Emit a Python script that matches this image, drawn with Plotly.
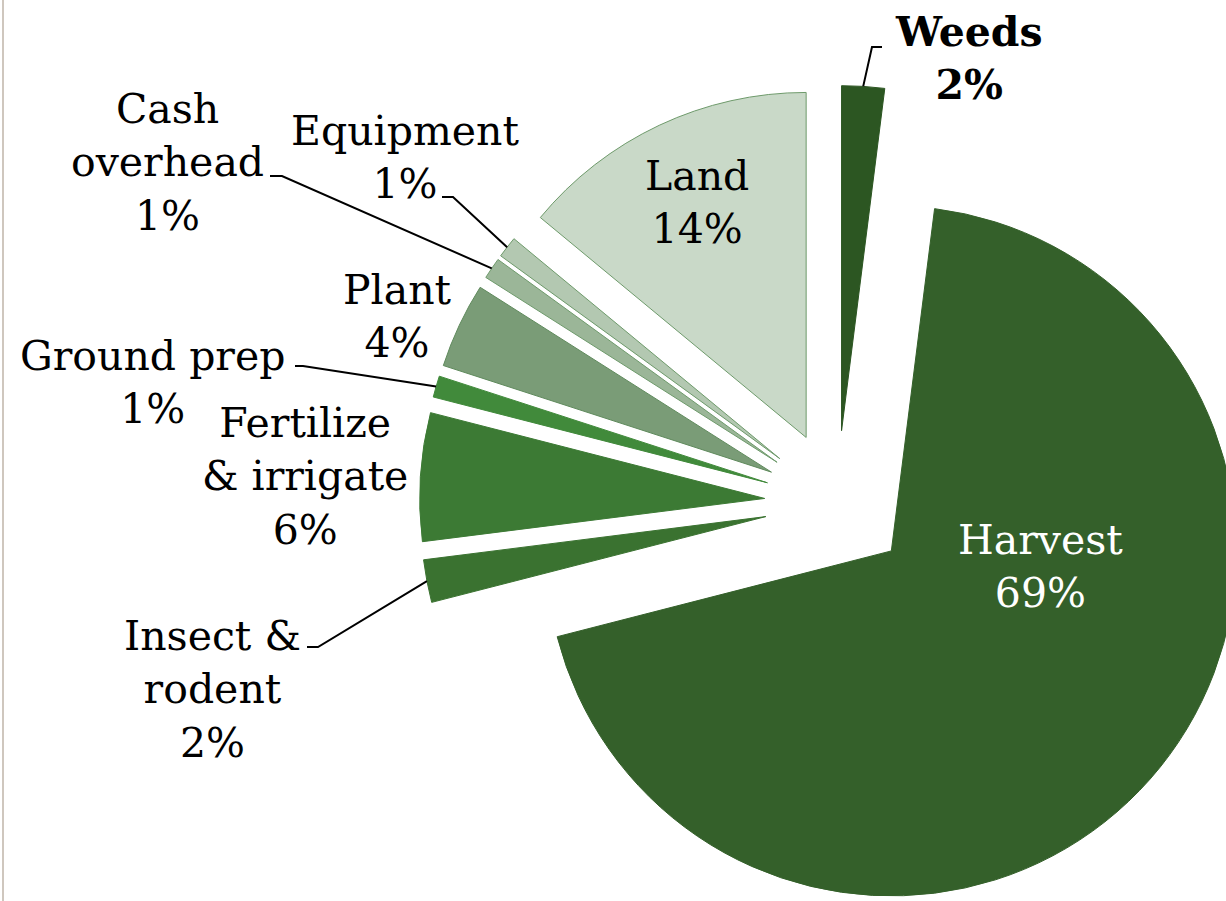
import math
import plotly.graph_objects as go

# ---------------- data ----------------
categories = ["Weeds", "Harvest", "Insect & rodent", "Fertilize & irrigate",
              "Ground prep", "Plant", "Cash overhead", "Equipment", "Land"]
values = [2, 69, 2, 6, 1, 4, 1, 1, 14]
display_names = ["Weeds", "Harvest", "Insect &<br>rodent", "Fertilize<br>& irrigate",
                 "Ground prep", "Plant", "Cash<br>overhead", "Equipment", "Land"]
colors = ["#2C5622", "#34602A", "#3A7230", "#3C7A34", "#418A3B",
          "#7A9C77", "#9BB698", "#B3C8B1", "#C9D9C8"]
line_colors = ["#2C5622", "#34602A", "#3A7230", "#3C7A34", "#418A3B",
               "#5F8A5C", "#6E9A6B", "#6E9A6B", "#6E9A6B"]

# ---------------- layout / style ----------------
W, H = 1260, 925                # figure size (px), viewport clips like the reference
CX, CY = 837, 503               # pie centre (px from top-left)
R = 345                         # pie radius (px)
PULL = 0.21                     # explosion (fraction of radius)
FONT = "DejaVu Serif"
FSIZE = 41

# label centres (px) and leader-line elbows (px) -- styling only
label_pos = {
    "Weeds": (969, 58), "Harvest": (1040, 566), "Insect & rodent": (212, 689),
    "Fertilize & irrigate": (305, 477), "Ground prep": (152, 382), "Plant": (397, 316),
    "Cash overhead": (167, 162), "Equipment": (405, 157), "Land": (697, 202),
}
leader_start = {
    "Weeds": ((882, 47), (872, 47)),
    "Cash overhead": ((270, 176), (282, 176)),
    "Equipment": ((442, 197), (453, 197)),
    "Ground prep": ((295, 366), (303, 366)),
    "Insect & rodent": ((307, 647), (318, 647)),
}

h = R * (1 + PULL)


def px(x):
    return x / W


def py(y):
    return 1 - y / H


fig = go.Figure(go.Pie(
    labels=categories,
    values=values,
    sort=False,
    direction="clockwise",
    rotation=0,
    pull=[PULL] * len(values),
    marker=dict(colors=colors, line=dict(color=line_colors, width=1)),
    textinfo="none",
    hoverinfo="label+percent",
    showlegend=False,
    domain=dict(x=[px(CX - h), px(CX + h)], y=[py(CY + h), py(CY - h)]),
))

# labels
total = sum(values)
annotations = []
shapes = []
cum = 0
for name, disp, v in zip(categories, display_names, values):
    mid = 2 * math.pi * (cum + v / 2) / total
    cum += v
    text = f"{disp}<br>{round(100 * v / total)}%"
    color = "black"
    if name == "Weeds":
        text = f"<b>{text}</b>"
    if name == "Harvest":
        color = "white"
    lx, ly = label_pos[name]
    annotations.append(dict(
        x=px(lx), y=py(ly), xref="paper", yref="paper", text=text,
        showarrow=False, xanchor="center", yanchor="middle", align="center",
        font=dict(family=FONT, size=FSIZE, color=color),
    ))
    if name in leader_start:
        ax = CX + R * (1 + PULL) * math.sin(mid)
        ay = CY - R * (1 + PULL) * math.cos(mid)
        (x0, y0), (x1, y1) = leader_start[name]
        path = f"M {px(x0)} {py(y0)} L {px(x1)} {py(y1)} L {px(ax)} {py(ay)}"
        shapes.append(dict(type="path", xref="paper", yref="paper", path=path,
                           line=dict(color="black", width=2)))

# thin frame line on the left edge
shapes.append(dict(type="line", xref="paper", yref="paper", x0=px(3), x1=px(3), y0=0, y1=1,
                   line=dict(color="#CFC7BE", width=2)))

fig.update_layout(
    width=W, height=H,
    margin=dict(l=0, r=0, t=0, b=0),
    paper_bgcolor="white", plot_bgcolor="white",
    annotations=annotations,
    shapes=shapes,
)

fig.write_html(
    "out.html",
    config={"displayModeBar": False},
    post_script="document.body.style.margin='0';document.body.style.overflow='hidden';"
                "document.documentElement.style.overflow='hidden';",
)
